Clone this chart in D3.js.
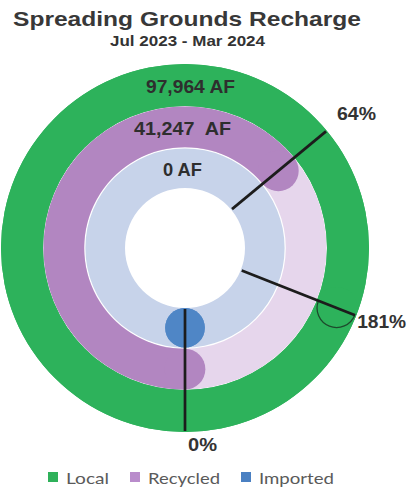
<!DOCTYPE html>
<html><head><meta charset="utf-8">
<script src="https://cdn.jsdelivr.net/npm/d3@7"></script>
<style>html,body{margin:0;padding:0;background:#fff;}svg{display:block;}</style>
</head><body>
<svg id="chart" width="417" height="491"></svg>
<script>
// ---- data ----
const title = "Spreading Grounds Recharge";
const subtitle = "Jul 2023 - Mar 2024";
const categories = ["Local", "Recycled", "Imported"];
const volumesAF = [97964, 41247, 0];
const percents = [181, 64, 0];
const volumeLabels = ["97,964 AF", "41,247  AF", "0 AF"];
const percentLabels = ["181%", "64%", "0%"];

// ---- styles / layout ----
const colors = ["#2db25b", "#b286c1", "#4f86c6"];
const trackColors = ["#2db25b", "#e6d6ec", "#c7d3ea"];
const legendColors = ["#2fb15a", "#b98ccb", "#4a80c2"];
const svg = d3.select("#chart");
const cx = 185, cy = 248;
const rings = [[142, 184], [100.8, 141.5], [60, 99.6]];
const angle = d3.scaleLinear().domain([0, 100]).range([Math.PI, 3 * Math.PI]);
const g = svg.append("g").attr("transform", `translate(${cx},${cy})`);

// tracks
g.selectAll("path.track").data(categories).join("path")
  .attr("class", "track")
  .attr("fill", (d, i) => trackColors[i])
  .attr("d", (d, i) => d3.arc()({innerRadius: rings[i][0], outerRadius: rings[i][1], startAngle: 0, endAngle: 2 * Math.PI}));

function pt(r, a) { return [r * Math.sin(a), -r * Math.cos(a)]; }

// progress arcs with round caps
categories.forEach((c, i) => {
  const [ri, ro] = rings[i];
  const mid = (ri + ro) / 2, capR = (ro - ri) / 2;
  const a0 = angle(0), a1 = angle(percents[i]);
  const grp = g.append("g");
  if (a1 > a0) {
    if (a1 - a0 >= 2 * Math.PI) {
      grp.append("path").attr("fill", colors[i])
        .attr("d", d3.arc()({innerRadius: ri, outerRadius: ro, startAngle: 0, endAngle: 2 * Math.PI}));
    } else {
      grp.append("path").attr("fill", colors[i])
        .attr("d", d3.arc()({innerRadius: ri, outerRadius: ro, startAngle: a0, endAngle: a1}));
      const s = pt(mid, a0);
      grp.append("circle").attr("cx", s[0]).attr("cy", s[1]).attr("r", capR).attr("fill", colors[i]);
    }
  } else {
    const s = pt(mid, a0);
    grp.append("circle").attr("cx", s[0]).attr("cy", s[1]).attr("r", capR).attr("fill", colors[i]);
  }
  const e = pt(mid, a1);
  grp.append("circle").attr("cx", e[0]).attr("cy", e[1]).attr("r", capR).attr("fill", colors[i]);
  if (a1 - a0 > 2 * Math.PI) {
    const p = d3.path();
    p.arc(e[0], e[1], capR - 1.5, a1 - Math.PI / 2, a1 + Math.PI / 2, false);
    grp.append("path").attr("d", p.toString()).attr("fill", "none")
      .attr("stroke", "#1d4a2c").attr("stroke-width", 1.3);
  }
});

// marker lines
const rIn = rings[2][0] + 1, rOut = rings[0][1] - 1;
g.selectAll("line.marker").data(percents).join("line")
  .attr("class", "marker")
  .attr("x1", d => pt(rIn, angle(d))[0]).attr("y1", d => pt(rIn, angle(d))[1])
  .attr("x2", d => pt(rOut, angle(d))[0]).attr("y2", d => pt(rOut, angle(d))[1])
  .attr("stroke", "#1c1c1c").attr("stroke-width", 2.7);

// percent labels
const pctOffsets = [[2, 13], [11, -11], [3, 20]];
const pctWidths = [49, 39, 29];
g.selectAll("text.pct").data(percentLabels).join("text")
  .attr("class", "pct")
  .attr("x", (d, i) => pt(rOut, angle(percents[i]))[0] + pctOffsets[i][0])
  .attr("y", (d, i) => pt(rOut, angle(percents[i]))[1] + pctOffsets[i][1])
  .attr("textLength", (d, i) => pctWidths[i]).attr("lengthAdjust", "spacingAndGlyphs")
  .attr("font-family", "Liberation Sans, Arial, sans-serif").attr("font-weight", "bold")
  .attr("font-size", 18).attr("fill", "#333").text(d => d);

// volume labels
const volDx = [5.5, -2.5, -2.5];
const volWidths = [89, 97, 39];
g.selectAll("text.vol").data(volumeLabels).join("text")
  .attr("class", "vol")
  .attr("x", (d, i) => volDx[i])
  .attr("y", (d, i) => -(rings[i][0] + rings[i][1]) / 2 + 8)
  .attr("text-anchor", "middle")
  .attr("textLength", (d, i) => volWidths[i]).attr("lengthAdjust", "spacingAndGlyphs")
  .style("white-space", "pre")
  .attr("font-family", "Liberation Sans, Arial, sans-serif").attr("font-weight", "bold")
  .attr("font-size", 17.5).attr("fill", "#2e2e2e").text(d => d);

// title
svg.append("text").attr("x", 187).attr("y", 26).attr("text-anchor", "middle")
  .attr("textLength", 348).attr("lengthAdjust", "spacingAndGlyphs")
  .attr("font-family", "Liberation Sans, Arial, sans-serif").attr("font-weight", "bold")
  .attr("font-size", 21).attr("fill", "#383838").text(title);
svg.append("text").attr("x", 187.5).attr("y", 46).attr("text-anchor", "middle")
  .attr("textLength", 155).attr("lengthAdjust", "spacingAndGlyphs")
  .attr("font-family", "Liberation Sans, Arial, sans-serif").attr("font-weight", "bold")
  .attr("font-size", 14).attr("fill", "#333").text(subtitle);

// legend
const legWidths = [43, 72, 75];
let lx = 48;
categories.forEach((c, i) => {
  svg.append("rect").attr("x", lx).attr("y", 472).attr("width", 10).attr("height", 10).attr("fill", legendColors[i]);
  svg.append("text").attr("x", lx + 18).attr("y", 484)
    .attr("textLength", legWidths[i]).attr("lengthAdjust", "spacingAndGlyphs")
    .attr("font-family", "Lato, 'Noto Sans', sans-serif").attr("font-size", 16)
    .attr("fill", "#5a5a5a").text(c);
  lx += 18 + legWidths[i] + 21;
});
</script>
</body></html>
